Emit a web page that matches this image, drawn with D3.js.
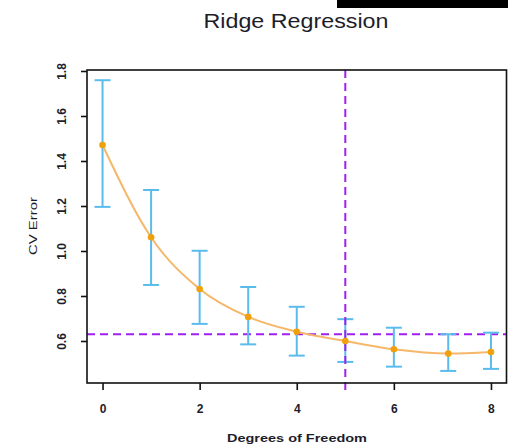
<!DOCTYPE html>
<html>
<head>
<meta charset="utf-8">
<script src="https://cdn.jsdelivr.net/npm/d3@7"></script>
<style>
  html, body { margin: 0; padding: 0; background: #fff; }
  svg { display: block; }
  text { font-family: "Liberation Sans", Arial, sans-serif; fill: #1d1d2a; }
</style>
</head>
<body>
<svg id="chart" width="508" height="448"></svg>
<script>
// Cross-validation error of ridge regression by effective degrees of freedom
const degreesOfFreedom = [0, 1, 2, 3, 4, 5, 6, 7.12, 8];
const cvError          = [1.471, 1.061, 0.831, 0.707, 0.641, 0.600, 0.563, 0.544, 0.551];
const cvErrorUpper     = [1.759, 1.271, 1.001, 0.840, 0.752, 0.697, 0.659, 0.630, 0.637];
const cvErrorLower     = [1.196, 0.849, 0.676, 0.585, 0.535, 0.507, 0.486, 0.467, 0.476];
const xTicks = [0, 2, 4, 6, 8];
const yTicks = [0.6, 0.8, 1.0, 1.2, 1.4, 1.6, 1.8];
const chosenDf = 5;          // model picked by the one-standard-error rule
const oneSeThreshold = 0.630; // minimum CV error plus one standard error

const svg = d3.select("#chart");
const plot = { left: 87, right: 506.5, top: 70, bottom: 383 };

const x = d3.scaleLinear().domain([-0.32, 8.32]).range([plot.left, plot.right]);
const y = d3.scaleLinear().domain([0.4133, 1.8044]).range([plot.bottom, plot.top]);

// header bar
svg.append("rect").attr("x", 337).attr("y", 0).attr("width", 171).attr("height", 8).attr("fill", "#000");

// title
svg.append("text")
  .attr("x", 296).attr("y", 28)
  .attr("text-anchor", "middle")
  .attr("font-size", 21)
  .attr("textLength", 185).attr("lengthAdjust", "spacingAndGlyphs")
  .text("Ridge Regression");

const data = degreesOfFreedom.map((d, i) => ({
  df: d, err: cvError[i], hi: cvErrorUpper[i], lo: cvErrorLower[i]
}));

// reference lines
svg.append("line")
  .attr("x1", plot.left).attr("x2", plot.right)
  .attr("y1", y(oneSeThreshold)).attr("y2", y(oneSeThreshold))
  .attr("stroke", "#a020f0").attr("stroke-width", 2).attr("stroke-dasharray", "8,5");

// error bars
const capHalf = 8;
const bars = svg.append("g").attr("stroke", "#5bbcec").attr("stroke-width", 2).attr("fill", "none");
data.forEach(d => {
  bars.append("line").attr("x1", x(d.df)).attr("x2", x(d.df)).attr("y1", y(d.hi)).attr("y2", y(d.lo));
  bars.append("line").attr("x1", x(d.df) - capHalf).attr("x2", x(d.df) + capHalf).attr("y1", y(d.hi)).attr("y2", y(d.hi));
  bars.append("line").attr("x1", x(d.df) - capHalf).attr("x2", x(d.df) + capHalf).attr("y1", y(d.lo)).attr("y2", y(d.lo));
});

svg.append("line")
  .attr("x1", x(chosenDf)).attr("x2", x(chosenDf))
  .attr("y1", plot.top).attr("y2", plot.bottom + 10)
  .attr("stroke", "#a020f0").attr("stroke-width", 2).attr("stroke-dasharray", "8,5");

// CV error curve and points
const line = d3.line().x(d => x(d.df)).y(d => y(d.err)).curve(d3.curveMonotoneX);
svg.append("path").datum(data)
  .attr("d", line)
  .attr("fill", "none").attr("stroke", "#f5b76a").attr("stroke-width", 2);

svg.append("g").selectAll("circle").data(data).join("circle")
  .attr("cx", d => x(d.df)).attr("cy", d => y(d.err)).attr("r", 3.3)
  .attr("fill", "#f0a00a");

// frame
svg.append("rect")
  .attr("x", plot.left).attr("y", plot.top)
  .attr("width", plot.right - plot.left).attr("height", plot.bottom - plot.top)
  .attr("fill", "none").attr("stroke", "#111").attr("stroke-width", 1.6);

// x axis
const xAxis = svg.append("g")
  .attr("transform", `translate(0,${plot.bottom})`)
  .call(d3.axisBottom(x).tickValues(xTicks).tickSize(7).tickPadding(14).tickFormat(d3.format("d")));
xAxis.select(".domain").remove();
xAxis.selectAll(".tick line").attr("stroke", "#111").attr("stroke-width", 1.6);
xAxis.selectAll(".tick text").attr("font-size", 12).attr("font-weight", "bold").attr("fill", "#1d1d2a")
  .attr("font-family", "'Liberation Sans', Arial, sans-serif");

// y axis with rotated labels
const yAxis = svg.append("g")
  .attr("transform", `translate(${plot.left},0)`)
  .call(d3.axisLeft(y).tickValues(yTicks).tickSize(6).tickFormat(d3.format(".1f")));
yAxis.select(".domain").remove();
yAxis.selectAll(".tick line").attr("stroke", "#111").attr("stroke-width", 1.6);
yAxis.selectAll(".tick text")
  .attr("x", 0).attr("y", 0).attr("dy", null)
  .attr("transform", "translate(-25,0) rotate(-90)")
  .attr("text-anchor", "middle")
  .attr("dominant-baseline", "central")
  .attr("font-size", 12).attr("font-weight", "bold").attr("fill", "#1d1d2a")
  .attr("font-family", "'Liberation Sans', Arial, sans-serif");

// axis titles
svg.append("text")
  .attr("x", 297).attr("y", 442)
  .attr("text-anchor", "middle").attr("font-size", 11.5).attr("font-weight", "bold")
  .attr("textLength", 140).attr("lengthAdjust", "spacingAndGlyphs")
  .text("Degrees of Freedom");

svg.append("text")
  .attr("transform", "translate(37,226) rotate(-90)")
  .attr("text-anchor", "middle").attr("font-size", 11.5)
  .attr("textLength", 58).attr("lengthAdjust", "spacingAndGlyphs")
  .text("CV Error");
</script>
</body>
</html>
